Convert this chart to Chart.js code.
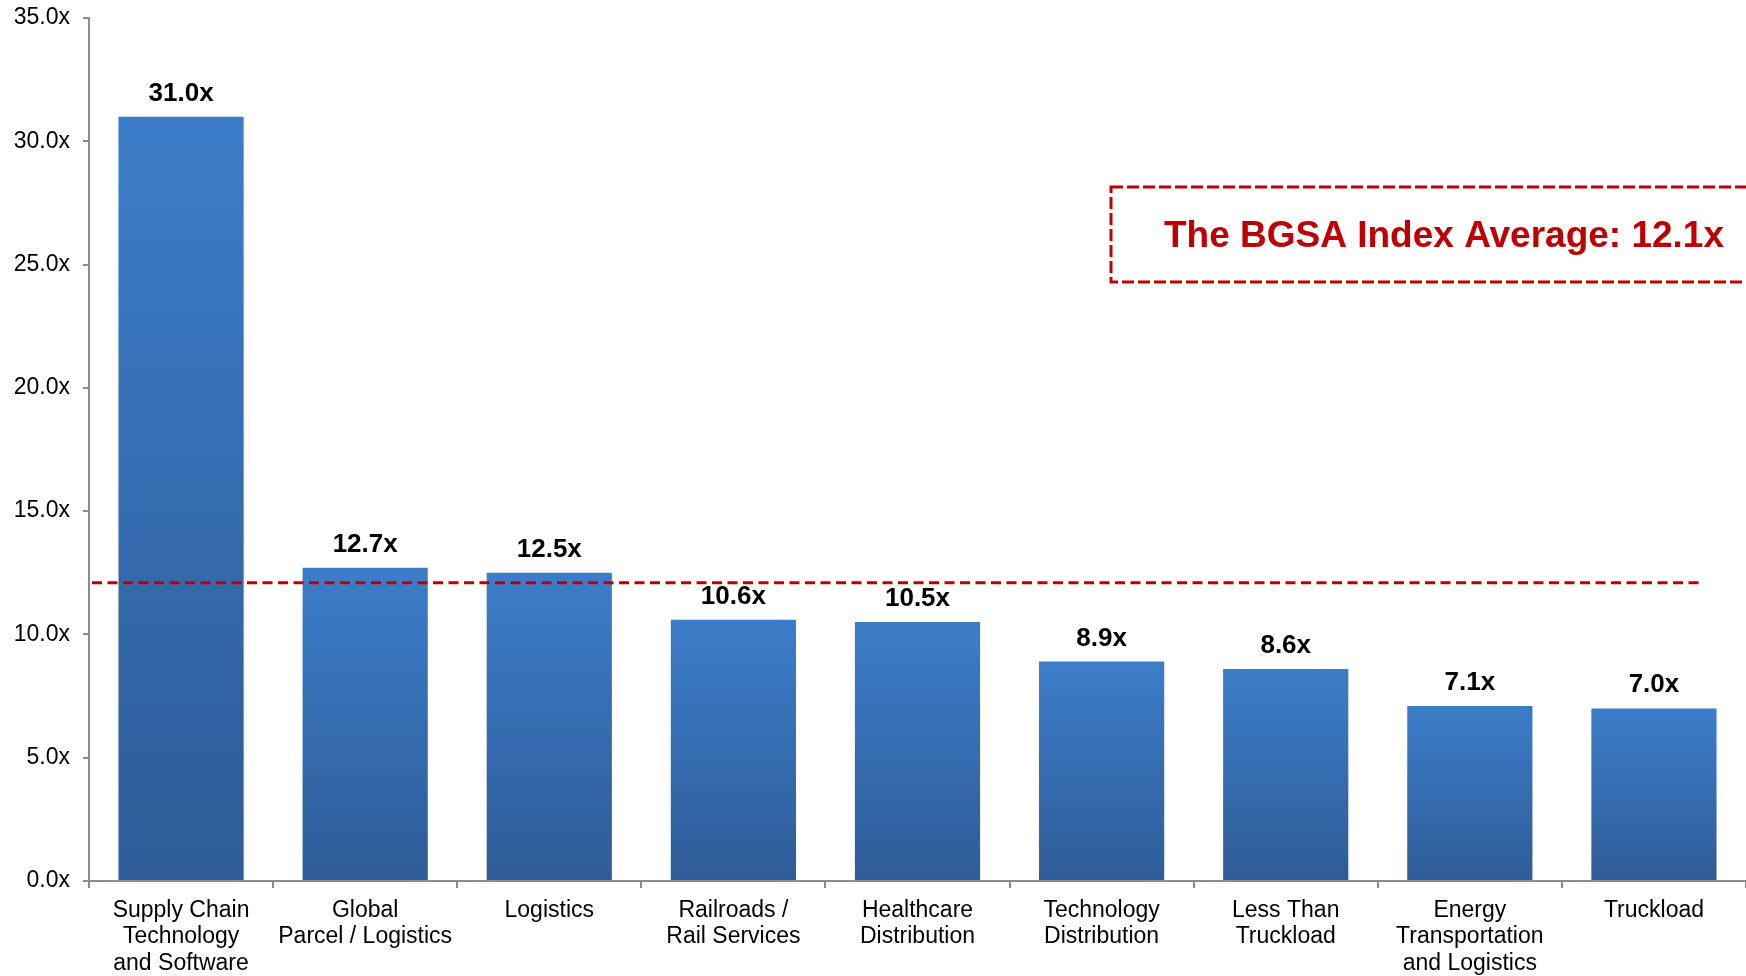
<!DOCTYPE html>
<html>
<head>
<meta charset="utf-8">
<script src="https://cdn.jsdelivr.net/npm/chart.js@4.4.1/dist/chart.umd.min.js"></script>
<style>
html,body{margin:0;padding:0;background:#fff;}
#wrap{width:1746px;height:976px;position:relative;}
</style>
</head>
<body>
<div id="wrap"><canvas id="c" width="1746" height="976"></canvas></div>
<script>
const categories = [
  ['Supply Chain','Technology','and Software'],
  ['Global','Parcel / Logistics'],
  'Logistics',
  ['Railroads /','Rail Services'],
  ['Healthcare','Distribution'],
  ['Technology','Distribution'],
  ['Less Than','Truckload'],
  ['Energy','Transportation','and Logistics'],
  'Truckload'
];
const multiples = [31.0, 12.7, 12.5, 10.6, 10.5, 8.9, 8.6, 7.1, 7.0];
const indexAverage = 12.1;
const averageLabel = 'The BGSA Index Average: 12.1x';
const yTicks = [0, 5, 10, 15, 20, 25, 30, 35];

const FONT = '"Liberation Sans", Arial, sans-serif';
const RED = '#C00000';

const barGradient = (c) => {
  const ch = c.chart;
  if (!ch.chartArea || c.raw === undefined) return '#3A78C4';
  const y = ch.scales.y;
  const top = y.getPixelForValue(c.raw);
  const bot = y.getPixelForValue(0);
  const g = ch.ctx.createLinearGradient(0, top, 0, bot);
  g.addColorStop(0, '#3C7DC9');
  g.addColorStop(1, '#2E5C97');
  return g;
};

const overlayPlugin = {
  id: 'overlay',
  afterDatasetsDraw(chart) {
    const ctx = chart.ctx;
    const meta = chart.getDatasetMeta(0);
    // value labels
    ctx.save();
    ctx.fillStyle = '#000';
    ctx.font = 'bold 26px ' + FONT;
    ctx.textAlign = 'center';
    ctx.textBaseline = 'alphabetic';
    meta.data.forEach((bar, i) => {
      ctx.fillText(multiples[i].toFixed(1) + 'x', bar.x, bar.y - 16);
    });
    ctx.restore();

    // average line
    const y = chart.scales.y.getPixelForValue(indexAverage);
    const x0 = chart.chartArea.left + 3;
    const x1 = 1704;
    ctx.save();
    ctx.strokeStyle = RED;
    ctx.lineWidth = 3;
    ctx.setLineDash([10, 5.5]);
    ctx.beginPath();
    ctx.moveTo(x0, y);
    ctx.lineTo(x1, y);
    ctx.stroke();
    ctx.restore();

    // callout box
    ctx.save();
    ctx.strokeStyle = RED;
    ctx.lineWidth = 3;
    ctx.setLineDash([12, 4]);
    ctx.beginPath();
    ctx.rect(1111, 187, 700, 95);
    ctx.stroke();
    ctx.setLineDash([]);
    ctx.fillStyle = RED;
    ctx.font = 'bold 37px ' + FONT;
    ctx.textAlign = 'left';
    ctx.textBaseline = 'alphabetic';
    ctx.fillText(averageLabel, 1164, 247);
    ctx.restore();
  }
};

new Chart(document.getElementById('c'), {
  type: 'bar',
  data: {
    labels: categories,
    datasets: [{
      data: multiples,
      backgroundColor: barGradient,
      borderWidth: 0,
      barPercentage: 0.68,
      categoryPercentage: 1.0
    }]
  },
  options: {
    responsive: false,
    animation: false,
    layout: { padding: { top: 18, right: 0, left: 0, bottom: 0 } },
    plugins: { legend: { display: false }, tooltip: { enabled: false } },
    scales: {
      x: {
        grid: { display: true, drawOnChartArea: false, drawTicks: true, tickLength: 7, color: '#8c8c8c', lineWidth: 2, offset: true },
        border: { display: true, color: '#8c8c8c', width: 2 },
        ticks: { color: '#000', font: { family: FONT, size: 23, lineHeight: 1.16 }, padding: 9, maxRotation: 0, autoSkip: false },
        afterFit(s) { s.height = 95; s.paddingLeft = 0; s.paddingRight = 0; }
      },
      y: {
        min: 0, max: 35,
        afterBuildTicks(s) { s.ticks = yTicks.map(v => ({ value: v })); },
        grid: { display: true, drawOnChartArea: false, drawTicks: true, tickLength: 6, color: '#8c8c8c', lineWidth: 2 },
        border: { display: true, color: '#8c8c8c', width: 2 },
        ticks: { color: '#000', font: { family: FONT, size: 23 }, padding: 13, callback: v => Number(v).toFixed(1) + 'x' },
        afterFit(s) { s.width = 89; s.paddingTop = 0; s.paddingBottom = 0; }
      }
    }
  },
  plugins: [overlayPlugin]
});
</script>
</body>
</html>
